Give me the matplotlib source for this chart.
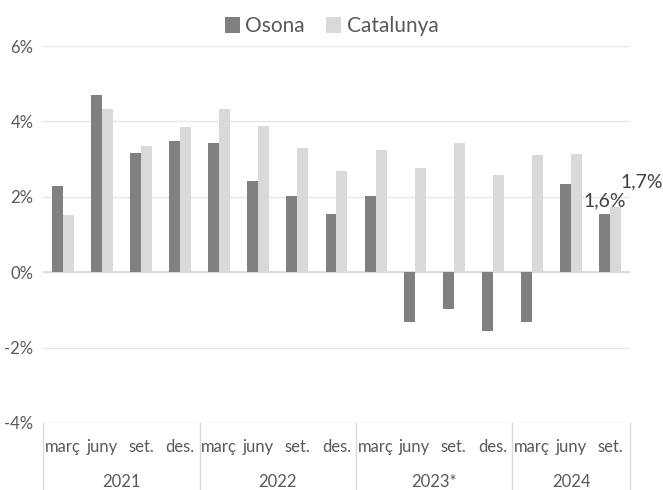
import numpy as np
import matplotlib.pyplot as plt

plt.rcParams['font.family'] = ['Lato', 'DejaVu Sans']

months = ['març', 'juny', 'set.', 'des.',
          'març', 'juny', 'set.', 'des.',
          'març', 'juny', 'set.', 'des.',
          'març', 'juny', 'set.']
years = ['2021', '2022', '2023*', '2024']
year_len = [4, 4, 4, 3]

osona = [2.28, 4.70, 3.16, 3.49, 3.44, 2.42, 2.03, 1.55, 2.01,
         -1.33, -0.97, -1.55, -1.32, 2.34, 1.55]
catalunya = [1.52, 4.32, 3.36, 3.86, 4.32, 3.88, 3.30, 2.69, 3.25,
             2.76, 3.44, 2.59, 3.11, 3.14, 1.73]

dark = '#808080'
light = '#D9D9D9'
txt = '#595959'
grid = '#E6E6E6'

fig = plt.figure(figsize=(6.63, 4.9), dpi=100)
ax = fig.add_axes([0.065, 0.137, 0.885, 0.769])

x = np.arange(len(months))
w = 0.28
ax.bar(x - w/2, osona, w, color=dark, label='Osona', zorder=3)
ax.bar(x + w/2, catalunya, w, color=light, label='Catalunya', zorder=3)

ax.set_xlim(-0.5, len(months) - 0.5)
ax.set_ylim(-4, 6)
ax.set_yticks([-4, -2, 0, 2, 4, 6])
ax.set_yticklabels(['%d%%' % v for v in [-4, -2, 0, 2, 4, 6]])
ax.tick_params(axis='y', length=0, pad=7, labelsize=12, labelcolor=txt)
ax.set_xticks([])
for s in ax.spines.values():
    s.set_visible(False)
ax.grid(axis='y', color=grid, linewidth=1, zorder=0)
ax.axhline(0, color=light, linewidth=1.2, zorder=2)

# data labels on last quarter
ax.annotate('1,6%', (x[-1] - w/2, osona[-1]), xytext=(0, 3), textcoords='offset points',
            ha='center', va='bottom', fontsize=14, color='#404040')
ax.annotate('1,7%', (x[-1] + w/2, catalunya[-1]), xytext=(19, 12), textcoords='offset points',
            ha='center', va='bottom', fontsize=14, color='#404040')

# category axis with two levels
tr = ax.get_xaxis_transform()
for i, m in enumerate(months):
    ax.text(x[i], -0.065, m, transform=tr, ha='center', va='center', fontsize=12, color=txt)
start = 0
bounds = [-0.5]
for yl, n in zip(years, year_len):
    ax.text(start + (n - 1) / 2, -0.158, yl, transform=tr, ha='center', va='center',
            fontsize=12, color=txt)
    start += n
    bounds.append(start - 0.5)
for b in bounds:
    ax.plot([b, b], [0, -0.18], transform=tr, color=light, linewidth=1, clip_on=False)

fig.legend(loc='upper center', bbox_to_anchor=(0.5, 1.005), ncol=2, frameon=False,
           fontsize=15, handlelength=0.75, handleheight=0.75, handletextpad=0.25,
           columnspacing=1.0, labelcolor=txt)

fig.savefig('out.png', dpi=100)
